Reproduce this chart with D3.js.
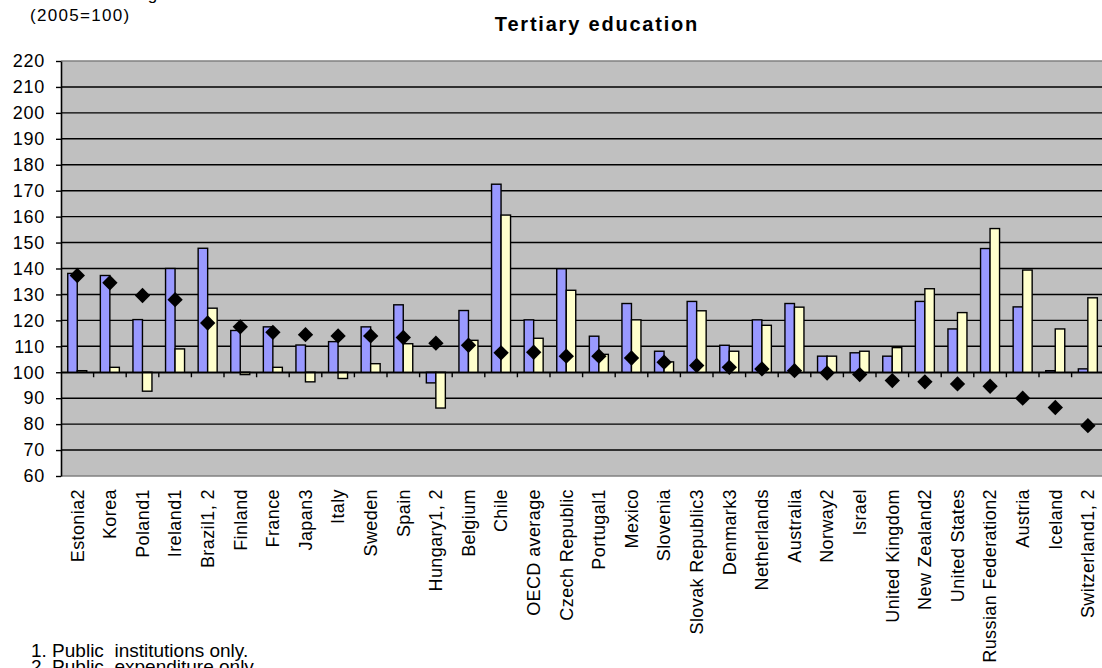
<!DOCTYPE html>
<html>
<head>
<meta charset="utf-8">
<script src="https://cdn.jsdelivr.net/npm/d3@7"></script>
<style>
  html, body { margin: 0; padding: 0; background: #ffffff; overflow: hidden; }
  svg { display: block; font-family: Arial, "Liberation Sans", sans-serif; }
</style>
</head>
<body>
<svg id="chart" width="1102" height="668"></svg>
<script>
const categories = ["Estonia2","Korea","Poland1","Ireland1","Brazil1, 2","Finland","France","Japan3","Italy","Sweden","Spain","Hungary1, 2","Belgium","Chile","OECD average","Czech Republic","Portugal1","Mexico","Slovenia","Slovak Republic3","Denmark3","Netherlands","Australia","Norway2","Israel","United Kingdom","New Zealand2","United States","Russian Federation2","Austria","Iceland","Switzerland1, 2"];
const expenditure = [138.1,137.3,120.3,140.0,147.8,116.1,117.5,110.5,111.8,117.5,126.0,95.9,123.8,172.5,120.2,139.9,113.9,126.5,108.1,127.3,110.4,120.2,126.5,106.2,107.5,106.2,127.3,116.7,147.7,125.2,100.6,101.3];
const students = [100.6,101.9,92.7,109.0,124.7,99.1,101.9,96.3,97.6,103.3,111.0,86.2,112.3,160.6,113.1,131.6,106.9,120.2,104.0,123.7,108.1,118.1,125.1,106.2,108.1,109.5,132.2,123.0,155.4,139.4,116.7,128.7];
const perStudent = [137.3,134.5,129.6,128.0,119.0,117.5,115.4,114.5,114.0,114.0,113.4,111.2,110.4,107.5,107.7,106.2,106.2,105.5,103.9,102.6,101.9,101.3,100.6,99.7,99.1,96.8,96.3,95.5,94.6,90.0,86.4,79.4];
const yTicks = [60,70,80,90,100,110,120,130,140,150,160,170,180,190,200,210,220];
const seriesNames = ["Change in expenditure","Change in the number of students"];
const seriesColors = ["#9999ff","#ffffcc"];
const titleText = "Tertiary education";
const unitLines = ["Index of change","(2005=100)"];
const notes = ["1. Public  institutions only.","2. Public  expenditure only."];

const svg = d3.select("#chart");
const plot = {left: 61, top: 61, right: 1104.2, bottom: 476};

const x = d3.scaleBand().domain(categories).range([plot.left, plot.right]).paddingInner(0).paddingOuter(0);
const x1 = d3.scaleBand().domain(seriesNames).range([x.bandwidth()*0.207, x.bandwidth()*0.79]).padding(0);
const y = d3.scaleLinear().domain([60, 220]).range([plot.bottom, plot.top]);

// plot background
svg.append("rect")
  .attr("x", plot.left).attr("y", plot.top)
  .attr("width", plot.right - plot.left).attr("height", plot.bottom - plot.top)
  .attr("fill", "#c0c0c0");

// gridlines
svg.append("g").selectAll("line")
  .data(yTicks.filter(t => t > 60 && t < 220))
  .join("line")
  .attr("x1", plot.left).attr("x2", plot.right)
  .attr("y1", d => y(d)).attr("y2", d => y(d))
  .attr("stroke", "#000").attr("stroke-width", 1.4);

// frame top & bottom (gray)
svg.append("line").attr("x1", plot.left).attr("x2", plot.right).attr("y1", plot.top).attr("y2", plot.top)
  .attr("stroke", "#808080").attr("stroke-width", 1.3);
svg.append("line").attr("x1", plot.left).attr("x2", plot.right).attr("y1", plot.bottom).attr("y2", plot.bottom)
  .attr("stroke", "#808080").attr("stroke-width", 1.6);

// y axis
const yAxis = d3.axisLeft(y).tickValues(yTicks).tickSize(5).tickSizeOuter(0).tickPadding(11).tickFormat(d3.format("d"));
const gy = svg.append("g").attr("transform", `translate(${plot.left},0)`).call(yAxis);
gy.select(".domain").attr("stroke", "#000").attr("stroke-width", 1.6);
gy.selectAll(".tick line").attr("stroke", "#000").attr("stroke-width", 1.4);
gy.selectAll(".tick text").attr("font-size", 18).attr("fill", "#000").attr("letter-spacing", 0.7)
  .attr("font-family", "Arial, 'Liberation Sans', sans-serif");

// bars
const groups = svg.append("g").selectAll("g")
  .data(categories.map((c, i) => ({c, vals: [expenditure[i], students[i]]})))
  .join("g")
  .attr("transform", d => `translate(${x(d.c)},0)`);
groups.selectAll("rect")
  .data(d => d.vals.map((v, j) => ({name: seriesNames[j], v, j})))
  .join("rect")
  .attr("x", d => x1(d.name))
  .attr("width", x1.bandwidth())
  .attr("y", d => Math.min(y(d.v), y(100)))
  .attr("height", d => Math.max(Math.abs(y(d.v) - y(100)), 0.8))
  .attr("fill", d => seriesColors[d.j])
  .attr("stroke", "#000").attr("stroke-width", 1.4);

// x axis at 100
const xAxis = d3.axisBottom(x).tickSize(0).tickFormat("");
const gx = svg.append("g").attr("transform", `translate(0,${y(100)})`).call(xAxis);
gx.select(".domain").attr("stroke", "#000").attr("stroke-width", 1.6);
svg.append("g").selectAll("line")
  .data(categories.slice(1))
  .join("line")
  .attr("x1", d => x(d)).attr("x2", d => x(d))
  .attr("y1", y(100)).attr("y2", y(100) + 5)
  .attr("stroke", "#000").attr("stroke-width", 1.4);

// diamonds
svg.append("g").selectAll("path")
  .data(categories.map((c, i) => ({c, v: perStudent[i]})))
  .join("path")
  .attr("transform", d => `translate(${x(d.c) + x.bandwidth()/2},${y(d.v)})`)
  .attr("d", d3.symbol(d3.symbolDiamond2, 150)())
  .attr("fill", "#000");

// category labels
svg.append("g").selectAll("text")
  .data(categories)
  .join("text")
  .attr("transform", d => `translate(${x(d) + x.bandwidth()/2},489) rotate(-90)`)
  .attr("text-anchor", "end")
  .attr("dy", "0.35em")
  .attr("font-size", 18)
  .attr("letter-spacing", 0.4)
  .attr("fill", "#000")
  .text(d => d);

// title
svg.append("text")
  .attr("x", 597).attr("y", 31)
  .attr("text-anchor", "middle")
  .attr("font-size", 20).attr("font-weight", "bold")
  .attr("letter-spacing", 1.8)
  .attr("fill", "#000")
  .text(titleText);

// unit text (first line mostly clipped at top, as in the reference)
svg.append("text").attr("x", 30).attr("y", 0).attr("font-size", 17).attr("letter-spacing", 1.2)
  .attr("fill", "#000").text(unitLines[0]);
svg.append("text").attr("x", 30).attr("y", 21).attr("font-size", 17).attr("letter-spacing", 1.3)
  .attr("fill", "#000").text(unitLines[1]);

// footnotes
svg.append("g").selectAll("text")
  .data(notes)
  .join("text")
  .attr("x", 31).attr("y", (d, i) => 657 + i * 16)
  .attr("font-size", 19)
  .attr("fill", "#000")
  .attr("xml:space", "preserve")
  .style("white-space", "pre")
  .text(d => d);
</script>
</body>
</html>
